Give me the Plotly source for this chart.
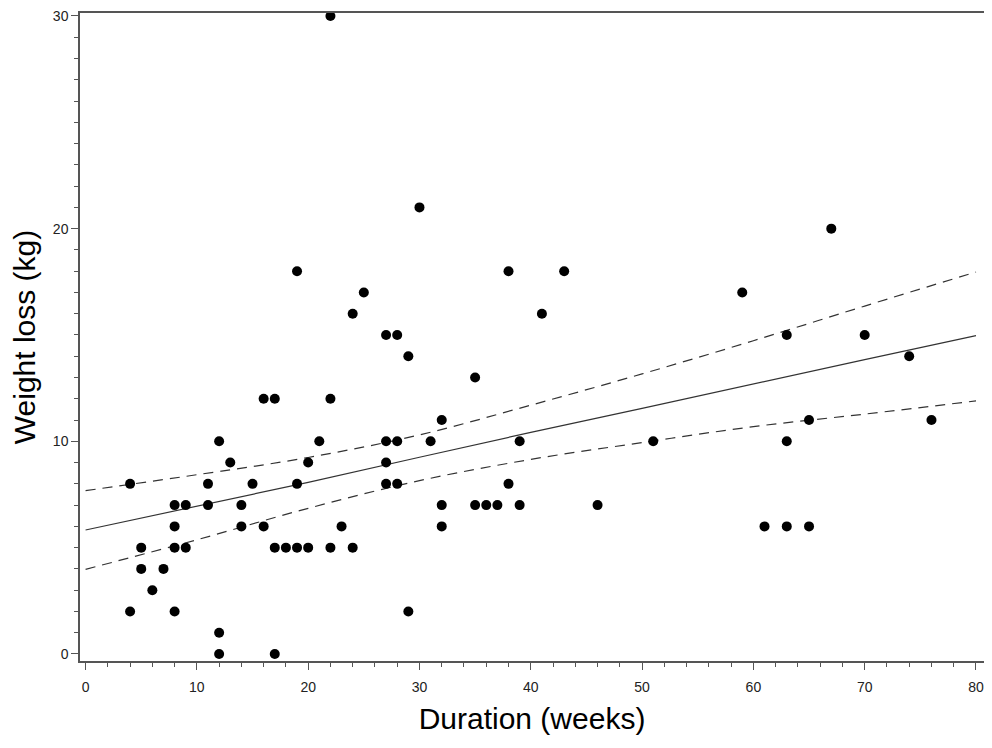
import plotly.graph_objects as go

duration = [4, 4, 5, 5, 6, 7, 8, 8, 8, 8, 9, 9, 11, 11, 12, 12, 12, 13, 14, 14,
            15, 16, 16, 17, 17, 17, 18, 19, 19, 19, 20, 20, 21, 22, 22, 22, 23, 24, 24, 25,
            27, 27, 27, 27, 28, 28, 28, 29, 29, 30, 31, 32, 32, 32, 35, 35, 36, 37, 38, 38,
            39, 39, 41, 43, 46, 51, 59, 61, 63, 63, 63, 65, 65, 67, 70, 74, 76]
weight_loss = [8, 2, 5, 4, 3, 4, 7, 6, 5, 2, 7, 5, 8, 7, 10, 1, 0, 9, 7, 6,
               8, 12, 6, 12, 5, 0, 5, 18, 8, 5, 9, 5, 10, 30, 12, 5, 6, 16, 5, 17,
               15, 10, 9, 8, 15, 10, 8, 14, 2, 21, 10, 11, 7, 6, 13, 7, 7, 7, 18, 8,
               10, 7, 16, 18, 7, 10, 17, 6, 15, 10, 6, 11, 6, 20, 15, 14, 11]

# Regression line and confidence limits
fit_x = [0, 10, 20, 30, 40, 50, 60, 70, 80]
fit_mid = [5.83, 6.94, 8.07, 9.25, 10.42, 11.55, 12.71, 13.84, 14.97]
fit_upper = [7.68, 8.43, 9.24, 10.30, 11.70, 13.17, 14.73, 16.36, 17.96]
fit_lower = [3.98, 5.37, 6.85, 8.15, 9.15, 9.94, 10.69, 11.28, 11.90]

x_ticks = [0, 10, 20, 30, 40, 50, 60, 70, 80]
y_ticks = [0, 10, 20, 30]

fig = go.Figure()
fig.add_trace(go.Scatter(x=fit_x, y=fit_upper, mode="lines",
                         line=dict(color="#333333", width=1.2, dash="10px,7px", shape="spline"),
                         showlegend=False, hoverinfo="skip"))
fig.add_trace(go.Scatter(x=fit_x, y=fit_lower, mode="lines",
                         line=dict(color="#333333", width=1.2, dash="10px,7px", shape="spline"),
                         showlegend=False, hoverinfo="skip"))
fig.add_trace(go.Scatter(x=fit_x, y=fit_mid, mode="lines",
                         line=dict(color="#333333", width=1.2),
                         showlegend=False, hoverinfo="skip"))
fig.add_trace(go.Scatter(x=duration, y=weight_loss, mode="markers", cliponaxis=False,
                         marker=dict(color="black", size=10, line=dict(width=0)),
                         showlegend=False))

axis_common = dict(
    showline=True, linecolor="#555555", linewidth=1.5, mirror=True,
    showgrid=False, zeroline=False, automargin=False, ticklabeloverflow="allow",
    ticks="outside", ticklen=7, tickcolor="#555555", tickwidth=1.2,
    tickfont=dict(family="Liberation Sans, Arial", size=14, color="#222222"),
)

fig.update_layout(
    width=976, height=732,
    margin=dict(l=72, r=0, t=5, b=79),
    paper_bgcolor="white", plot_bgcolor="white",
    xaxis=dict(range=[-0.5, 80.72], tickvals=x_ticks, ticklabelstandoff=5,
               minor=dict(dtick=2, ticks="outside", ticklen=4, tickcolor="#555555"),
               title=dict(text="Duration (weeks)", standoff=14,
                          font=dict(family="Liberation Sans, Arial", size=30, color="black")),
               **axis_common),
    yaxis=dict(range=[-0.33, 30.14], tickvals=y_ticks,
               minor=dict(dtick=1, ticks="outside", ticklen=4, tickcolor="#555555"),
               title=dict(text="Weight loss (kg)", standoff=8,
                          font=dict(family="Liberation Sans, Arial", size=30, color="black")),
               **axis_common),
)

fig.write_html("out.html")
